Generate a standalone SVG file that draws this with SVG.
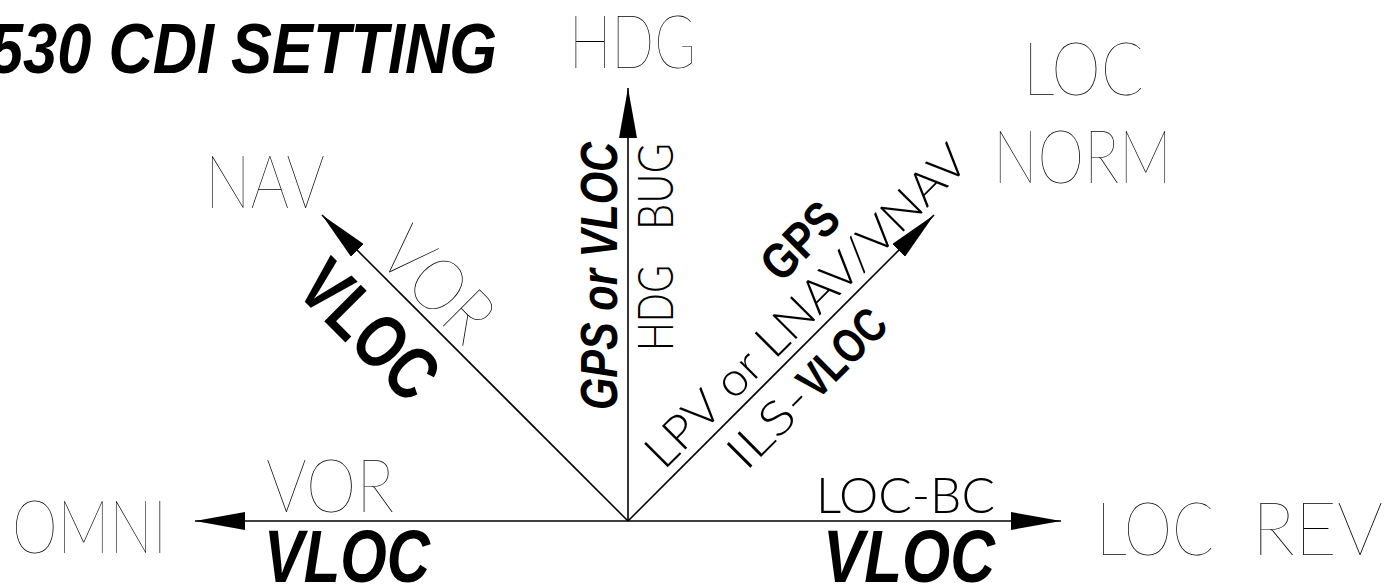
<svg xmlns="http://www.w3.org/2000/svg" width="1400" height="584" viewBox="0 0 1400 584">
<style>
.thin{font-family:Lato,Inter,"DejaVu Sans",sans-serif;font-weight:200;fill:#000}
.sm{font-weight:300}
.bold{font-family:"Liberation Sans",Arial,sans-serif;font-weight:700;fill:#000}
.it{font-style:italic}
.ln{stroke:#000;stroke-width:1.6;fill:none}
</style>
<defs>
<marker id="ah" viewBox="0 0 50 18" refX="50" refY="9" markerWidth="50" markerHeight="18" markerUnits="userSpaceOnUse" orient="auto">
<path d="M0,0 L50,9 L0,18 Z" fill="#000"/>
</marker>
</defs>
<rect width="1400" height="584" fill="#fff"/>
<g id="title"><text class="bold it" x="-11" y="73" font-size="71" textLength="508" lengthAdjust="spacingAndGlyphs">530 CDI SETTING</text></g>
<g id="connectors">
<line class="ln" x1="628" y1="521" x2="195" y2="521" marker-end="url(#ah)"/>
<line class="ln" x1="628" y1="521" x2="1061" y2="521" marker-end="url(#ah)"/>
<line class="ln" x1="628" y1="521" x2="628" y2="88" marker-end="url(#ah)"/>
<line class="ln" x1="628" y1="521" x2="322" y2="215" marker-end="url(#ah)"/>
<line class="ln" x1="628" y1="521" x2="934" y2="215" marker-end="url(#ah)"/>
</g>
<g id="node-hdg"><text class="thin" x="569" y="68" font-size="74" textLength="127" lengthAdjust="spacingAndGlyphs">HDG</text></g>
<g id="node-nav"><text class="thin" x="205" y="208" font-size="74" textLength="120" lengthAdjust="spacingAndGlyphs">NAV</text></g>
<g id="node-loc-norm">
<text class="thin" x="1023" y="95" font-size="74" textLength="121" lengthAdjust="spacingAndGlyphs">LOC</text>
<text class="thin" x="993" y="183" font-size="74" textLength="179" lengthAdjust="spacingAndGlyphs">NORM</text>
</g>
<g id="node-omni"><text class="thin" x="12" y="553" font-size="74" textLength="155" lengthAdjust="spacingAndGlyphs">OMNI</text></g>
<g id="node-loc-rev"><text class="thin" y="555" font-size="74"><tspan x="1096" textLength="118" lengthAdjust="spacingAndGlyphs">LOC</tspan> <tspan x="1252" textLength="131" lengthAdjust="spacingAndGlyphs">REV</tspan></text></g>
<g id="label-omni">
<text class="thin" x="266" y="512" font-size="74" textLength="128" lengthAdjust="spacingAndGlyphs">VOR</text>
<text class="bold it" x="264" y="582" font-size="75" textLength="166" lengthAdjust="spacingAndGlyphs">VLOC</text>
</g>
<g id="label-locrev">
<text class="thin sm" x="816" y="513" font-size="50" textLength="179" lengthAdjust="spacingAndGlyphs">LOC-BC</text>
<text class="bold it" x="823" y="582" font-size="75" textLength="172" lengthAdjust="spacingAndGlyphs">VLOC</text>
</g>
<g id="label-hdg">
<text class="bold it" transform="translate(617,410) rotate(-90)" font-size="52" textLength="268" lengthAdjust="spacingAndGlyphs">GPS or VLOC</text>
<text class="thin sm" transform="translate(673,351) rotate(-90)" font-size="50"><tspan x="0" textLength="86" lengthAdjust="spacingAndGlyphs">HDG</tspan> <tspan x="121" textLength="87" lengthAdjust="spacingAndGlyphs">BUG</tspan></text>
</g>
<g id="label-nav">
<text class="thin" transform="translate(375,258) rotate(45)" font-size="74" textLength="126" lengthAdjust="spacingAndGlyphs">VOR</text>
<text class="bold" transform="translate(294,291) rotate(45)" font-size="75" textLength="162" lengthAdjust="spacingAndGlyphs">VLOC</text>
</g>
<g id="label-locnorm">
<text class="thin sm" transform="translate(664,471) rotate(-45)" font-size="47" textLength="434" lengthAdjust="spacingAndGlyphs">LPV or LNAV/VNAV</text>
<text class="bold" transform="translate(781,284) rotate(-45)" font-size="50" textLength="88" lengthAdjust="spacingAndGlyphs">GPS</text>
<text transform="translate(746,472) rotate(-45)" font-size="47"><tspan class="thin sm" x="0" textLength="97" lengthAdjust="spacingAndGlyphs">ILS-</tspan><tspan class="bold" x="100" font-size="48" textLength="104" lengthAdjust="spacingAndGlyphs">VLOC</tspan></text>
</g>
</svg>
